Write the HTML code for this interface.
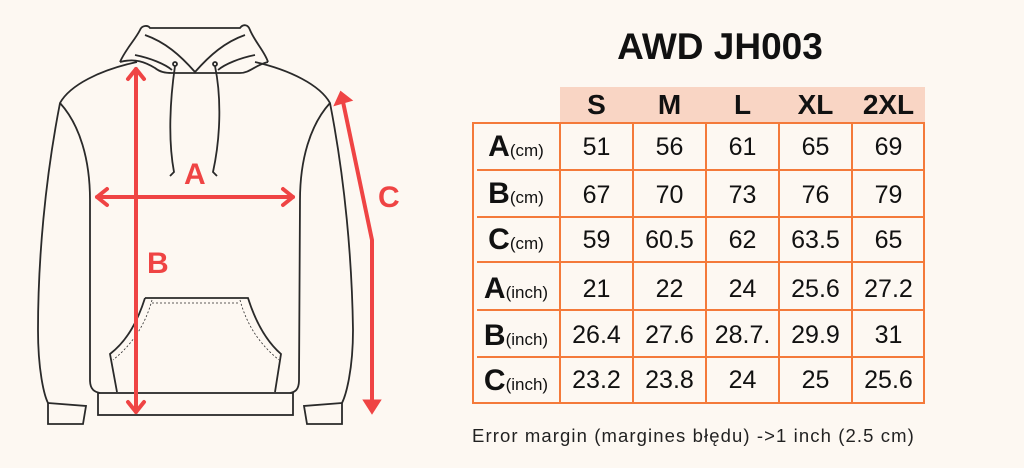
<!DOCTYPE html>
<html><head><meta charset="utf-8"><style>
body{margin:0;width:1024px;height:468px;background:#fdf8f2;position:relative;overflow:hidden;font-family:"Liberation Sans",sans-serif;}
.title{position:absolute;left:600px;top:26px;width:240px;text-align:center;font-weight:bold;font-size:37px;color:#111;}
.hdr{position:absolute;left:560px;top:87px;width:365px;height:36px;background:#f9d5c4;}
.hc{position:absolute;top:89px;width:73px;text-align:center;font-weight:bold;font-size:28px;color:#111;}
.v{position:absolute;background:#f47a3a;}
.c{position:absolute;width:73px;text-align:center;font-size:25px;color:#111;}
.l{position:absolute;left:472px;width:88px;text-align:center;color:#111;}
.l b{font-size:30px;}
.l span{font-size:17px;}
.foot{position:absolute;left:472px;top:425px;font-size:18.5px;letter-spacing:1.1px;color:#222;}
</style></head><body>
<svg width="420" height="468" style="position:absolute;left:0;top:0" fill="none" stroke="#2a2a2a" stroke-width="1.8">
<path d="M137 62 C100 70 70 85 60 103 C45 180 38 260 38 330 C38 370 44 395 48 403"/>
<path d="M60 103 C80 125 90 160 90 200 L90 380 C90 390 95 392 100 393"/>
<path d="M255 62 C290 70 320 85 330 103 C345 180 352 260 353 330 C353 370 346 395 342 403"/>
<path d="M330 103 C310 125 300 160 300 200 L299 380 C299 390 295 392 290 393"/>
<rect x="98" y="393" width="195" height="22"/>
<path d="M48 403 L86 406 L83 424 L48 424 Z"/>
<path d="M342 403 L304 406 L307 424 L342 424 Z"/>
<path d="M120 62 C125 50 135 40 140 30 C142 25 148 25 150 28 L240 28 C243 24 248 24 250 30 C255 42 265 52 268 62"/>
<path d="M120 62 C135 58 145 62 155 68 C160 72 165 73 172 73 L240 73 C250 73 255 65 268 62"/>
<path d="M145 35 C165 42 180 55 195 72 C210 55 225 42 245 35"/>
<path d="M135 55 C150 58 165 64 172 70"/>
<path d="M255 55 C240 58 225 64 218 70"/>
<circle cx="175" cy="64" r="2"/><circle cx="215" cy="64" r="2"/>
<path d="M175 66 C170 100 168 140 174 172 L170 176"/>
<path d="M215 66 C222 100 220 140 213 172 L217 176"/>
<path d="M145 298 L248 298 C255 320 265 340 281 354 L275 392"/>
<path d="M145 298 C138 320 128 340 110 354 L117 392"/>
<path d="M152 300 C146 322 135 342 113 360" stroke-dasharray="2 2" stroke-width="0.8"/>
<path d="M240 300 C246 322 257 342 279 360" stroke-dasharray="2 2" stroke-width="0.8"/>
<path d="M152 303 L240 303" stroke-dasharray="2 2" stroke-width="0.8"/>
<g stroke="#ef4444" stroke-width="4" stroke-linecap="round" stroke-linejoin="round">
<line x1="97" y1="197" x2="293" y2="197"/>
<polyline points="107,189 97,197 107,205"/>
<polyline points="283,189 293,197 283,205"/>
<line x1="136" y1="69" x2="136" y2="412"/>
<polyline points="128,79 136,69 144,79"/>
<polyline points="128,402 136,412 144,402"/>
<polyline points="342,97 372,240 372,405"/>
</g>
<path d="M336 104 L341 93 L350 100 Z" fill="#ef4444" stroke="#ef4444" stroke-width="3"/>
<path d="M365 401 L379 401 L372 412 Z" fill="#ef4444" stroke="#ef4444" stroke-width="3"/>
<g fill="#ef4444" stroke="none" font-family="Liberation Sans, sans-serif" font-weight="bold" font-size="30">
<text x="184" y="184">A</text>
<text x="147" y="273">B</text>
<text x="378" y="207">C</text>
</g>
</svg>
<div class="title">AWD JH003</div>
<div class="hdr"></div>
<div class="hc" style="left:560px">S</div>
<div class="hc" style="left:633px">M</div>
<div class="hc" style="left:706px">L</div>
<div class="hc" style="left:779px">XL</div>
<div class="hc" style="left:852px">2XL</div>
<div class="v" style="left:472px;top:122px;width:2px;height:282px"></div>
<div class="v" style="left:559px;top:122px;width:2px;height:282px"></div>
<div class="v" style="left:632px;top:122px;width:2px;height:282px"></div>
<div class="v" style="left:705px;top:122px;width:2px;height:282px"></div>
<div class="v" style="left:778px;top:122px;width:2px;height:282px"></div>
<div class="v" style="left:851px;top:122px;width:2px;height:282px"></div>
<div class="v" style="left:923px;top:122px;width:2px;height:282px"></div>
<div class="v" style="left:472px;top:122px;width:453px;height:2px"></div>
<div class="v" style="left:477px;top:169px;width:448px;height:2px"></div>
<div class="v" style="left:477px;top:216px;width:448px;height:2px"></div>
<div class="v" style="left:477px;top:261px;width:448px;height:2px"></div>
<div class="v" style="left:477px;top:309px;width:448px;height:2px"></div>
<div class="v" style="left:477px;top:356px;width:448px;height:2px"></div>
<div class="v" style="left:472px;top:402px;width:453px;height:2px"></div>
<div class="l" style="top:130px"><b>A</b><span>(cm)</span></div>
<div class="l" style="top:177px"><b>B</b><span>(cm)</span></div>
<div class="l" style="top:223px"><b>C</b><span>(cm)</span></div>
<div class="l" style="top:272px"><b>A</b><span>(inch)</span></div>
<div class="l" style="top:319px"><b>B</b><span>(inch)</span></div>
<div class="l" style="top:364px"><b>C</b><span>(inch)</span></div>
<div class="c" style="left:560px;top:133px">51</div><div class="c" style="left:633px;top:133px">56</div><div class="c" style="left:706px;top:133px">61</div><div class="c" style="left:779px;top:133px">65</div><div class="c" style="left:852px;top:133px">69</div>
<div class="c" style="left:560px;top:181px">67</div><div class="c" style="left:633px;top:181px">70</div><div class="c" style="left:706px;top:181px">73</div><div class="c" style="left:779px;top:181px">76</div><div class="c" style="left:852px;top:181px">79</div>
<div class="c" style="left:560px;top:226px">59</div><div class="c" style="left:633px;top:226px">60.5</div><div class="c" style="left:706px;top:226px">62</div><div class="c" style="left:779px;top:226px">63.5</div><div class="c" style="left:852px;top:226px">65</div>
<div class="c" style="left:560px;top:275px">21</div><div class="c" style="left:633px;top:275px">22</div><div class="c" style="left:706px;top:275px">24</div><div class="c" style="left:779px;top:275px">25.6</div><div class="c" style="left:852px;top:275px">27.2</div>
<div class="c" style="left:560px;top:321px">26.4</div><div class="c" style="left:633px;top:321px">27.6</div><div class="c" style="left:706px;top:321px">28.7.</div><div class="c" style="left:779px;top:321px">29.9</div><div class="c" style="left:852px;top:321px">31</div>
<div class="c" style="left:560px;top:366px">23.2</div><div class="c" style="left:633px;top:366px">23.8</div><div class="c" style="left:706px;top:366px">24</div><div class="c" style="left:779px;top:366px">25</div><div class="c" style="left:852px;top:366px">25.6</div>
<div class="foot">Error margin (margines błędu) -&gt;1 inch (2.5 cm)</div>
</body></html>
